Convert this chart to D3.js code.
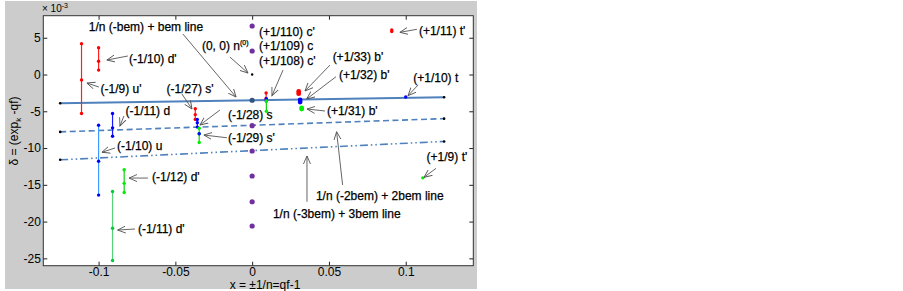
<!DOCTYPE html>
<html>
<head>
<meta charset="utf-8">
<script src="https://cdn.jsdelivr.net/npm/d3@7"></script>
<style>
  body { margin: 0; background: #fff; }
  text { font-family: Arial, "Liberation Sans", sans-serif; fill: #000; }
</style>
</head>
<body>
<div class="canva"></div>
<script>
// values are in units of 1e-3 on the y axis
const xEnds = [-0.125, 0.125];
const bemSolid = [-3.9, -3.1];
const bemDashed = [-7.8, -6.0];
const bemDashDot = [-11.6, -9.1];

// points sitting on x = 0
const zeroPurple = [6.6, 3.2, -6.95, -10.4, -13.8, -17.3, -20.6];
const zeroOrigin = [0];
const zeroBem = [-3.5];

// vertical groups: x value, y values, colour key
const groupX = [-1/9, -1/10, -1/11, -1/10, -1/12, -1/11, -1/27, -1/28, -1/29, 1/110, 1/109, 1/108, 1/33, 1/32, 1/31, 1/10, 1/11, 1/9];
const groupY = [
  [4.2, -0.75, -5.3],
  [3.65, 1.8, 0.6],
  [-5.3, -7.25, -8.4],
  [-6.9, -11.8, -16.4],
  [-12.95, -14.8, -16.05],
  [-15.9, -20.9, -25.3],
  [-4.65, -5.45, -6.1],
  [-6.1, -6.55, -7.15],
  [-7.3, -8.05, -9.25],
  [-2.5, -3.25],
  [-3.3, -3.6],
  [-3.6, -5.0],
  [-2.3, -2.6],
  [-3.45, -3.75],
  [-4.55, -4.7],
  [-3.05],
  [5.85, 6.05],
  [-14.05]
];
const groupKey = ["r", "r", "b", "lb", "g", "lg", "r", "b", "g", "r", "b", "g", "r", "b", "g", "b", "r", "g"];

// annotation texts with text anchor and arrow (tail -> head) in data units
const noteText = ["1/n (-bem) + bem line", "(0, 0) n", "(+1/110) c'", "(+1/109) c", "(+1/108) c'",
  "(-1/10) d'", "(-1/9) u'", "(-1/27) s'", "(-1/11) d", "(-1/28) s", "(-1/29) s'", "(-1/10) u",
  "(-1/12) d'", "(-1/11) d'", "1/n (-3bem) + 3bem line", "1/n (-2bem) + 2bem line", "(+1/9) t'",
  "(+1/11) t'", "(+1/33) b'", "(+1/32) b'", "(+1/10) t", "(+1/31) b'"];
const notePos = [[-0.1064, 6.5], [-0.0327, 3.92], [0.0044, 5.82], [0.0044, 4.01], [0.0044, 1.97],
  [-0.0802, 2.2], [-0.0987, -1.88], [-0.0557, -1.88], [-0.0824, -4.83], [-0.0158, -5.37], [-0.0158, -8.6], [-0.088, -9.72],
  [-0.0652, -13.9], [-0.0744, -20.92], [0.0135, -18.88], [0.0415, -16.48], [0.1136, -11.18],
  [0.1086, 6.05], [0.0524, 2.42], [0.0565, 0.03], [0.1049, -0.38], [0.0487, -4.96]];
const noteArrow = [
  [-0.0451, 5.51, -0.0105, -3.06], [-0.0145, 2.38, -0.0027, 0.2], null, null, [0.0201, 0.61, 0.0129, -2.88],
  [-0.0809, 2.52, -0.0946, 1.97], [-0.0998, -1.7, -0.1076, -1.16], [-0.0457, -2.65, -0.0392, -4.69],
  [-0.0835, -5.64, -0.0861, -7.0], [-0.021, -4.83, -0.034, -6.87], [-0.0164, -8.6, -0.0314, -8.23],
  [-0.0893, -9.99, -0.0978, -10.58], [-0.0679, -14.08, -0.0802, -14.08], [-0.0763, -21.01, -0.0876, -21.15],
  [0.0357, -17.3, 0.0357, -11.08], [0.0589, -15.03, 0.055, -7.78], [0.1197, -12.76, 0.1119, -13.98],
  [0.1073, 6.15, 0.0962, 5.74], [0.0507, 1.29, 0.0344, -2.24], [0.0546, -0.3, 0.0355, -3.33],
  [0.108, -1.43, 0.1015, -2.88], [0.0474, -4.96, 0.0357, -4.69]];

const xTicks = [-0.1, -0.05, 0, 0.05, 0.1];
const yTicks = [5, 0, -5, -10, -15, -20, -25];

const colors = {
  r: {line: "#ff2020", dot: "#ff0000"},
  b: {line: "#1a1aff", dot: "#0000ff"},
  g: {line: "#10d010", dot: "#00ee00"},
  lb: {line: "#3d9bff", dot: "#0000ff"},
  lg: {line: "#55d27a", dot: "#00cc33"}
};

const svg = d3.select(".canva").append("svg")
  .attr("width", 903)
  .attr("height", 291);

// grey figure background
svg.append("rect")
  .attr("x", 5).attr("y", 1)
  .attr("width", 472).attr("height", 288)
  .attr("fill", "#cccccc");

const margin = {top: 15.7, left: 43.3, right: 473.3, bottom: 265.7};

const x = d3.scaleLinear().domain([-0.136, 0.144]).range([margin.left, margin.right]);
const y = d3.scaleLinear().domain([-26, 8]).range([margin.bottom, margin.top]);

svg.append("rect")
  .attr("x", margin.left).attr("y", margin.top)
  .attr("width", margin.right - margin.left)
  .attr("height", margin.bottom - margin.top)
  .attr("fill", "#fff");

// axes, ticks pointing inwards like matlab
function styleAxis(g) {
  g.select(".domain").remove();
  g.selectAll(".tick line").attr("stroke", "#222");
  g.selectAll(".tick text").attr("font-size", 12);
}
svg.append("g")
  .attr("transform", `translate(0,${margin.bottom})`)
  .call(d3.axisBottom(x).tickValues(xTicks).tickSizeInner(-4).tickSizeOuter(0).tickPadding(1.5).tickFormat(d => String(d)))
  .call(styleAxis);
svg.append("g")
  .attr("transform", `translate(0,${margin.top})`)
  .call(d3.axisTop(x).tickValues(xTicks).tickSizeInner(-4).tickSizeOuter(0).tickFormat(""))
  .call(styleAxis);
svg.append("g")
  .attr("transform", `translate(${margin.left},0)`)
  .call(d3.axisLeft(y).tickValues(yTicks).tickSizeInner(-4).tickSizeOuter(0).tickPadding(2.5).tickFormat(d => String(d)))
  .call(styleAxis);
svg.append("g")
  .attr("transform", `translate(${margin.right},0)`)
  .call(d3.axisRight(y).tickValues(yTicks).tickSizeInner(-4).tickSizeOuter(0).tickFormat(""))
  .call(styleAxis);

svg.append("rect")
  .attr("x", margin.left).attr("y", margin.top)
  .attr("width", margin.right - margin.left)
  .attr("height", margin.bottom - margin.top)
  .attr("fill", "none")
  .attr("stroke", "#333")
  .attr("stroke-width", 1);

// axis labels
svg.append("text")
  .attr("x", 265).attr("y", 289)
  .attr("text-anchor", "middle")
  .attr("font-size", 12)
  .text("x = ±1/n=qf-1");

const yLab = svg.append("text")
  .attr("transform", "translate(18,131) rotate(-90)")
  .attr("text-anchor", "middle")
  .attr("font-size", 12);
yLab.append("tspan").text("δ = (exp");
yLab.append("tspan").attr("font-size", 8).attr("dy", 3).text("k");
yLab.append("tspan").attr("dy", -3).text(" -qf)");

const expo = svg.append("text")
  .attr("x", 42).attr("y", 12)
  .attr("font-size", 10);
expo.append("tspan").text("× 10");
expo.append("tspan").attr("font-size", 7).attr("dy", -4).text("-3");

// bem lines
const line = d3.line().x(d => x(d[0])).y(d => y(d[1]));
const bemLines = [bemSolid, bemDashed, bemDashDot];
const dashes = [null, "6,3.5", "8,3,1.5,3,1.5,3"];
const widths = [2, 1.6, 1.6];
bemLines.forEach((vals, i) => {
  const pts = xEnds.map((xe, j) => [xe, vals[j]]);
  svg.append("path")
    .attr("d", line(pts))
    .attr("fill", "none")
    .attr("stroke", "#4f81bd")
    .attr("stroke-width", widths[i])
    .attr("stroke-dasharray", dashes[i]);
  svg.selectAll(null)
    .data(pts)
    .join("circle")
    .attr("cx", d => x(d[0]))
    .attr("cy", d => y(d[1]))
    .attr("r", 1.3)
    .attr("fill", "#000");
});

// vertical groups
groupX.forEach((gx, i) => {
  const ys = groupY[i];
  const c = colors[groupKey[i]];
  if (ys.length > 1) {
    svg.append("line")
      .attr("x1", x(gx)).attr("x2", x(gx))
      .attr("y1", y(d3.max(ys))).attr("y2", y(d3.min(ys)))
      .attr("stroke", c.line)
      .attr("stroke-width", 1.2);
  }
  svg.selectAll(null)
    .data(ys)
    .join("circle")
    .attr("cx", x(gx))
    .attr("cy", d => y(d))
    .attr("r", ys.length == 2 && i >= 12 && i <= 14 ? 2.4 : 1.7)
    .attr("fill", c.dot);
});
// blue dot in the middle of the -1/29 segment
svg.append("circle")
  .attr("cx", x(groupX[8])).attr("cy", y(groupY[8][1]))
  .attr("r", 1.7).attr("fill", "#0000ff");

// x = 0 points
svg.selectAll(null)
  .data(zeroPurple)
  .join("circle")
  .attr("cx", x(0)).attr("cy", d => y(d))
  .attr("r", 2.6).attr("fill", "#7030a0");
svg.selectAll(null)
  .data(zeroBem)
  .join("circle")
  .attr("cx", x(0)).attr("cy", d => y(d))
  .attr("r", 2.6).attr("fill", "#2f5580");
svg.selectAll(null)
  .data(zeroOrigin)
  .join("circle")
  .attr("cx", x(0)).attr("cy", d => y(d))
  .attr("r", 1.2).attr("fill", "#000");

// annotations
svg.append("defs").append("marker")
  .attr("id", "head")
  .attr("markerUnits", "userSpaceOnUse")
  .attr("markerWidth", 10).attr("markerHeight", 10)
  .attr("refX", 8).attr("refY", 4)
  .attr("orient", "auto")
  .append("path")
  .attr("d", "M0,0.5 L8,4 L0,7.5")
  .attr("fill", "none")
  .attr("stroke", "#555")
  .attr("stroke-width", 0.9);

noteArrow.forEach(a => {
  if (!a) return;
  svg.append("line")
    .attr("x1", x(a[0])).attr("y1", y(a[1]))
    .attr("x2", x(a[2])).attr("y2", y(a[3]))
    .attr("stroke", "#555")
    .attr("stroke-width", 0.9)
    .attr("marker-end", "url(#head)");
});

noteText.forEach((t, i) => {
  const txt = svg.append("text")
    .attr("x", x(notePos[i][0]))
    .attr("y", y(notePos[i][1]) + 4.5)
    .attr("font-size", 12)
    .attr("stroke", "#000")
    .attr("stroke-width", 0.25)
    .text(t);
  if (t == "(0, 0) n") {
    txt.append("tspan").attr("font-size", 7).attr("dy", -5).text("(0)");
  }
});
</script>
</body>
</html>
